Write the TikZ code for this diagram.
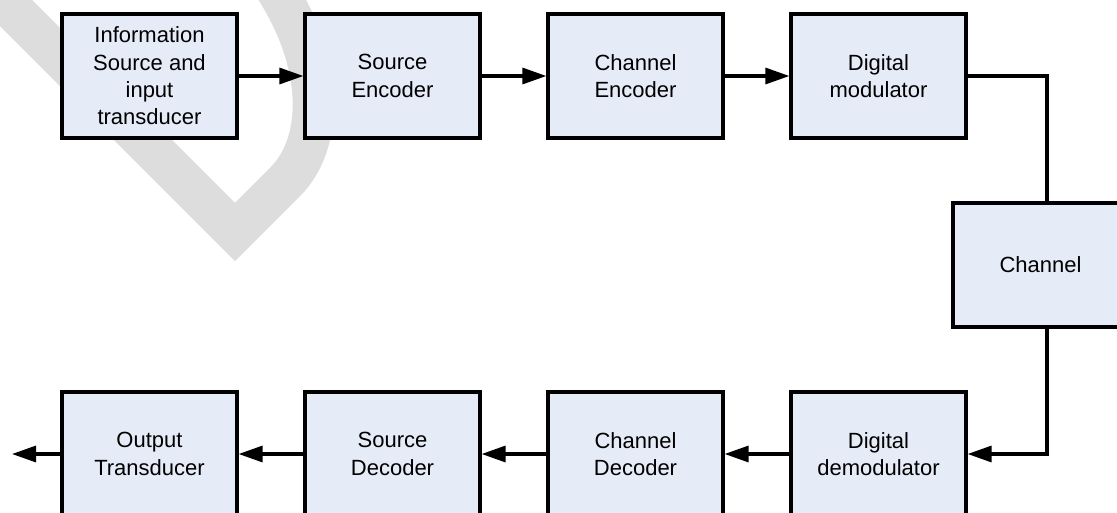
\documentclass[tikz,border=0pt]{standalone}
\usepackage{fontspec}
\setmainfont{Liberation Sans}
\usetikzlibrary{arrows.meta}
\definecolor{boxfill}{RGB}{230,236,247}
\definecolor{wmgray}{RGB}{221,221,221}
\begin{document}
\begin{tikzpicture}[x=0.75pt,y=-0.75pt]
\tikzset{block/.style={rectangle,draw,fill=boxfill,line width=2.4pt,
  minimum width=131.25pt,minimum height=93pt,align=center,inner sep=0pt,
  font=\fontsize{16.5}{20.5}\selectfont}}
\tikzstyle{link}=[line width=2.4pt,-{Triangle[length=18pt,width=12pt]}]
\useasboundingbox (0,0) rectangle (1117,512);
% watermark
\draw[wmgray,line width=31pt] (-20,-23) -- (235,232) -- (285,182)
  .. controls (325,142) and (325,60) .. (270,-20);
% transmitter
\node[block] (src) at (149.5,76) {Information\\Source and\\input\\transducer};
\node[block] (senc) at (392.5,76) {Source\\Encoder};
\node[block] (cenc) at (635.5,76) {Channel\\Encoder};
\node[block] (mod) at (878.5,76) {Digital\\modulator};
\node[block] (chan) at (1040.5,265) {Channel};
% receiver
\node[block] (demod) at (878.5,454) {Digital\\demodulator};
\node[block] (cdec) at (635.5,454) {Channel\\Decoder};
\node[block] (sdec) at (392.5,454) {Source\\Decoder};
\node[block] (outt) at (149.5,454) {Output\\Transducer};
\coordinate (cx) at (1047,0);
\coordinate (sink) at (12,454);
\draw[link] (src) -- (senc);
\draw[link] (senc) -- (cenc);
\draw[link] (cenc) -- (mod);
\draw[line width=2.4pt] (mod.east) -| (cx |- chan.north);
\draw[link] (cx |- chan.south) |- (demod.east);
\draw[link] (demod) -- (cdec);
\draw[link] (cdec) -- (sdec);
\draw[link] (sdec) -- (outt);
\draw[link] (outt) -- (sink);
\end{tikzpicture}
\end{document}
